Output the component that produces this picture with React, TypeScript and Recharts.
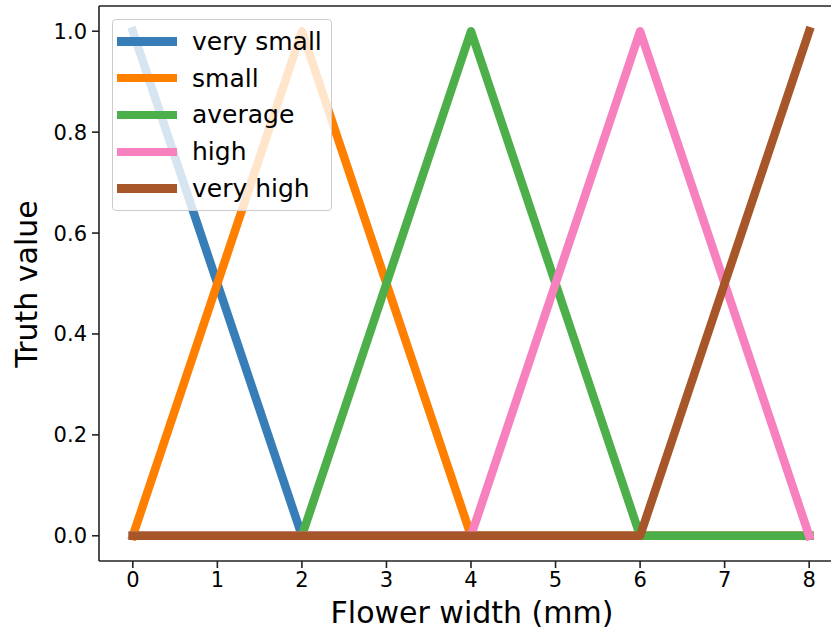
import React from "react"
import { LineChart, Line, XAxis, YAxis, ReferenceLine, Legend } from "recharts"

// flower width in mm, sampled at every integer
const widths = [0, 1, 2, 3, 4, 5, 6, 7, 8]

// truth value of each fuzzy set at the sampled widths
const verySmall = [1, 0.5, 0, 0, 0, 0, 0, 0, 0]
const small = [0, 0.5, 1, 0.5, 0, 0, 0, 0, 0]
const average = [0, 0, 0, 0.5, 1, 0.5, 0, 0, 0]
const high = [0, 0, 0, 0, 0, 0.5, 1, 0.5, 0]
const veryHigh = [0, 0, 0, 0, 0, 0, 0, 0.5, 1]

const xTicks = [0, 1, 2, 3, 4, 5, 6, 7, 8]
const yTicks = [0, 0.2, 0.4, 0.6, 0.8, 1.0]

const series = [
  { key: "verySmall", name: "very small", values: verySmall, color: "#377eb8" },
  { key: "small", name: "small", values: small, color: "#ff7f00" },
  { key: "average", name: "average", values: average, color: "#4daf4a" },
  { key: "high", name: "high", values: high, color: "#f781bf" },
  { key: "veryHigh", name: "very high", values: veryHigh, color: "#a65628" },
]

const data = widths.map((x, i) => {
  const row: Record<string, number> = { x }
  series.forEach((s) => {
    row[s.key] = s.values[i]
  })
  return row
})

const FONT = "'DejaVu Sans', sans-serif"
const INK = "#222"
const tickStyle = { fontFamily: FONT, fontSize: 21, fill: "#000" }

const LegendBox = () => (
  <div
    style={{
      boxSizing: "border-box",
      width: 220,
      height: 192,
      border: "1.3px solid #cccccc",
      borderRadius: 4,
      background: "rgba(255,255,255,0.8)",
      paddingTop: 3,
      fontFamily: FONT,
      fontSize: 25,
      color: "#000",
    }}
  >
    {series.map((s) => (
      <div key={s.key} style={{ display: "flex", alignItems: "center", height: 36.8 }}>
        <div style={{ marginLeft: 4, width: 60, height: 8.5, background: s.color }} />
        <span style={{ marginLeft: 15, lineHeight: 1 }}>{s.name}</span>
      </div>
    ))}
  </div>
)

export default function App() {
  return (
    <div style={{ position: "relative", width: 831, height: 633, overflow: "hidden", background: "#fff" }}>
      <style>{`body{margin:0}`}</style>
      <LineChart width={860} height={633} data={data} margin={{ top: 6, right: 17, bottom: 0, left: 0 }}>
        <XAxis
          dataKey="x"
          type="number"
          domain={[-0.4, 8.4]}
          ticks={xTicks}
          allowDataOverflow
          height={72}
          tickSize={7}
          tickMargin={4}
          tick={tickStyle}
          axisLine={{ stroke: INK, strokeWidth: 1.6 }}
          tickLine={{ stroke: INK, strokeWidth: 1.6 }}
          label={{
            content: () => (
              <text x={472} y={623} textAnchor="middle" fontFamily={FONT} fontSize={30} fill="#000">
                Flower width (mm)
              </text>
            ),
          }}
        />
        <YAxis
          type="number"
          domain={[-0.05, 1.05]}
          ticks={yTicks}
          allowDataOverflow
          width={99}
          tickSize={7}
          tickMargin={5}
          tick={tickStyle}
          tickFormatter={(v: number) => v.toFixed(1)}
          axisLine={{ stroke: INK, strokeWidth: 1.6 }}
          tickLine={{ stroke: INK, strokeWidth: 1.6 }}
          label={{
            content: () => (
              <text
                x={37}
                y={284}
                transform="rotate(-90 37 284)"
                textAnchor="middle"
                fontFamily={FONT}
                fontSize={30}
                fill="#000"
              >
                Truth value
              </text>
            ),
          }}
        />
        <ReferenceLine y={1.05} stroke={INK} strokeWidth={1.6} ifOverflow="visible" />
        <ReferenceLine x={8.4} stroke={INK} strokeWidth={1.6} ifOverflow="visible" />
        {series.map((s) => (
          <Line
            key={s.key}
            type="linear"
            dataKey={s.key}
            name={s.name}
            stroke={s.color}
            strokeWidth={8.5}
            strokeLinecap="square"
            strokeLinejoin="round"
            dot={false}
            activeDot={false}
            isAnimationActive={false}
          />
        ))}
        <Legend
          layout="vertical"
          align="center"
          verticalAlign="middle"
          content={() => <LegendBox />}
          wrapperStyle={{ left: 112, top: 19, width: 220, height: 192 }}
        />
      </LineChart>
    </div>
  )
}
